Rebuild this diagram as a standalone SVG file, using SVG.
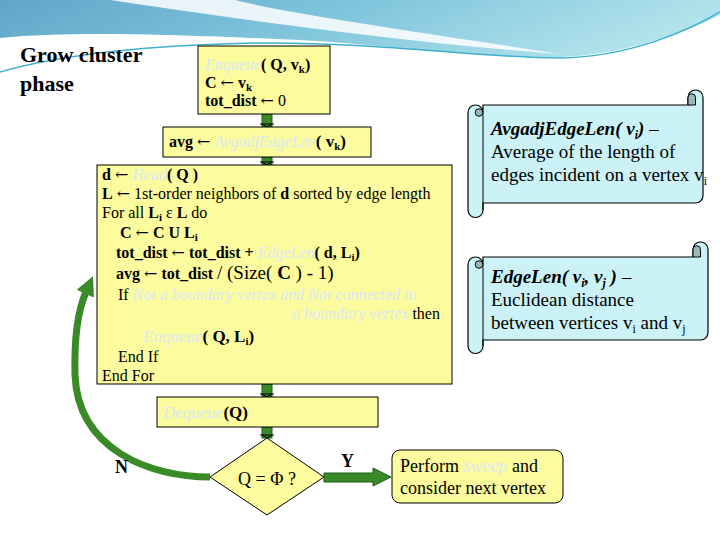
<svg xmlns="http://www.w3.org/2000/svg" width="720" height="540" viewBox="0 0 720 540">
<style>
.t{font-family:"Liberation Serif","Times New Roman",serif;font-size:16px;fill:#000}
.b{font-weight:bold}
.f{font-style:italic;fill:#d8e9f7}
.ar{font-family:"DejaVu Serif",serif;font-weight:normal}
.box{fill:#fcfb9d;stroke:#000;stroke-width:1}
.conn{fill:#3a8a28;stroke:#1f5a14;stroke-width:1}
.tick{fill:none;stroke:#000;stroke-width:1}
.scroll{fill:#caf2f7;stroke:#000;stroke-width:1.2}
.curl{fill:#9bb9bb;stroke:#000;stroke-width:1}
.sc{font-family:"Liberation Serif","Times New Roman",serif;font-size:19px;fill:#000}
</style>
<defs>
<linearGradient id="sky" x1="0" y1="0" x2="1" y2="0.2">
<stop offset="0" stop-color="#5fa6c9"/>
<stop offset="0.5" stop-color="#80c5dc"/>
<stop offset="1" stop-color="#b2e3ec"/>
</linearGradient>
<marker id="ah" viewBox="0 0 10 10" refX="1" refY="5" markerUnits="userSpaceOnUse" markerWidth="19" markerHeight="19" orient="auto">
<path d="M0,0 L10,5 L0,10 Z" fill="#3a8a28"/>
</marker>
</defs>
<rect width="720" height="540" fill="#fff"/>
<g id="background">
<path d="M0,0 H720 V15 C680,35 620,55 560,57 C470,58 380,44 300,40 C200,36 80,30 0,38 Z" fill="url(#sky)"/>
<path d="M110,0 C230,18 400,42 560,54 C420,32 290,14 235,0 Z" fill="#fff" opacity="0.85"/>
<path d="M0,72 C60,55 150,45 260,43 C380,42 480,58 560,58 C630,57 690,30 720,12" fill="none" stroke="#3fb0cc" stroke-width="1.5"/>
</g>
<g id="title">
<text class="t b" style="font-size:22px" x="20" y="62">Grow cluster</text>
<text class="t b" style="font-size:22px" x="20" y="91">phase</text>
</g>
<g id="connectors">
<rect class="conn" x="262" y="114" width="10" height="13"/>
<path class="tick" d="M260,124 H274 M262,124 L267,127 L272,124"/>
<rect class="conn" x="262" y="157" width="10" height="8"/>
<path class="tick" d="M260,162 H274 M262,162 L267,165 L272,162"/>
<rect class="conn" x="262" y="384" width="10" height="13"/>
<path class="tick" d="M260,394 H274 M262,394 L267,397 L272,394"/>
<rect class="conn" x="262" y="427" width="10" height="11"/>
<path class="tick" d="M260,435 H274 M262,435 L267,438 L272,435"/>
<path d="M324,473 H373 V468 L391,477 L373,486 V482 H324 Z" fill="#3a8a28" stroke="#1f5a14" stroke-width="1"/>
<path d="M210,477 C150,477 78,450 75,375 C74,335 78,310 86,292" fill="none" stroke="#3a8a28" stroke-width="7" marker-end="url(#ah)"/>
<text class="t b" style="font-size:18px" x="341" y="467">Y</text>
<text class="t b" style="font-size:18px" x="115" y="473">N</text>
</g>
<g id="enqueue">
<rect class="box" x="198" y="46" width="132" height="68"/>
<text class="t" x="205" y="70"><tspan class="f">Enqueue</tspan><tspan class="b">( Q, v</tspan><tspan class="b" dy="3" font-size="11">k</tspan><tspan class="b" dy="-3">)</tspan></text>
<text class="t b" x="205" y="88">C <tspan class="ar">←</tspan> v<tspan dy="3" font-size="11">k</tspan></text>
<text class="t" x="205" y="106"><tspan class="b">tot_dist</tspan> <tspan class="ar">←</tspan> 0</text>
</g>
<g id="avg">
<rect class="box" x="163" y="127" width="208" height="30"/>
<text class="t" x="169" y="147"><tspan class="b">avg </tspan><tspan class="ar">←</tspan> <tspan class="f">AvgadjEdgeLen</tspan><tspan class="b" font-size="17">( v</tspan><tspan class="b" dy="3" font-size="11">k</tspan><tspan class="b" font-size="17" dy="-3">)</tspan></text>
</g>
<g id="loop">
<rect class="box" x="97" y="165" width="355" height="219"/>
<text class="t" x="102" y="180"><tspan class="b">d</tspan> <tspan class="ar">←</tspan> <tspan class="f">Head</tspan><tspan class="b">( Q )</tspan></text>
<text class="t" x="102" y="199"><tspan class="b">L</tspan> <tspan class="ar">←</tspan> 1st-order neighbors of  <tspan class="b">d</tspan> sorted by edge length</text>
<text class="t" x="102" y="218">For all <tspan class="b">L</tspan><tspan class="b" dy="3" font-size="11">i</tspan><tspan dy="-3"> ε </tspan><tspan class="b">L</tspan>  do</text>
<text class="t b" x="120" y="238">C <tspan class="ar">←</tspan> C U L<tspan dy="3" font-size="11">i</tspan></text>
<text class="t" x="116" y="258"><tspan class="b">tot_dist </tspan><tspan class="ar">←</tspan><tspan class="b"> tot_dist + </tspan><tspan class="f">EdgeLen</tspan><tspan class="b">( d, L</tspan><tspan class="b" dy="3" font-size="11">i</tspan><tspan class="b" dy="-3">)</tspan></text>
<text class="t" x="116" y="279"><tspan class="b">avg </tspan><tspan class="ar">←</tspan><tspan class="b"> tot_dist </tspan><tspan font-size="19">/ (Size( <tspan class="b">C</tspan> ) - 1)</tspan></text>
<text class="t" x="118" y="300">If <tspan class="f">Not a boundary vertex and Not connected to</tspan></text>
<text class="t" x="292" y="319"><tspan class="f">a boundary vertex</tspan> then</text>
<text class="t" x="143" y="342" style="font-size:17px"><tspan class="f">Enqueue</tspan><tspan class="b">( Q, L</tspan><tspan class="b" dy="3" font-size="11">i</tspan><tspan class="b" dy="-3">)</tspan></text>
<text class="t" x="118" y="362">End If</text>
<text class="t" x="102" y="381">End For</text>
</g>
<g id="dequeue">
<rect class="box" x="157" y="397" width="221" height="30"/>
<text class="t" x="163" y="418" style="font-size:17px"><tspan class="f">Dequeue</tspan><tspan class="b">(Q)</tspan></text>
</g>
<g id="decision">
<path class="box" d="M267,438 L324,477 L267,515 L210,477 Z"/>
<text class="t" x="267" y="485" style="font-size:18px" text-anchor="middle">Q = Φ ?</text>
</g>
<g id="perform">
<rect class="box" x="392" y="450" width="171" height="53" rx="8"/>
<text class="t" x="400" y="472" style="font-size:18px">Perform <tspan class="f" font-style="normal">sweep</tspan> and</text>
<text class="t" x="400" y="494" style="font-size:18px">consider next vertex</text>
</g>
<g id="scroll-avgadj">
<path class="scroll" d="M483,105 H688 V97.5 A7.5,7.5 0 0 1 703,97.5 V195.5 A7.5,7.5 0 0 1 695.5,203 H483 V210 A7.5,7.5 0 0 1 468,210 V112.5 A7.5,7.5 0 0 1 483,112.5 Z"/>
<path class="curl" d="M688,105 V97.5 A3.75,3.75 0 0 1 695.5,97.5 V105 Z"/>
<circle class="curl" cx="479" cy="112.5" r="3.75"/>
<line x1="483" y1="112.5" x2="483" y2="210" stroke="#000" stroke-width="1"/>
<text class="sc" x="491" y="135"><tspan font-weight="bold" font-style="italic">AvgadjEdgeLen( v<tspan dy="4" font-size="12">i</tspan><tspan dy="-4">)</tspan></tspan> –</text>
<text class="sc" x="491" y="158">Average of the length of</text>
<text class="sc" x="491" y="181">edges incident on a vertex v<tspan dy="4" font-size="12">i</tspan></text>
</g>
<g id="scroll-edgelen">
<path class="scroll" d="M483,257 H693 V249.5 A7.5,7.5 0 0 1 708,249.5 V332.5 A7.5,7.5 0 0 1 700.5,340 H483 V346 A7.5,7.5 0 0 1 468,346 V264.5 A7.5,7.5 0 0 1 483,264.5 Z"/>
<path class="curl" d="M693,257 V249.5 A3.75,3.75 0 0 1 700.5,249.5 V257 Z"/>
<circle class="curl" cx="479" cy="264.5" r="3.75"/>
<line x1="483" y1="264.5" x2="483" y2="346" stroke="#000" stroke-width="1"/>
<text class="sc" x="491" y="283"><tspan font-weight="bold" font-style="italic">EdgeLen( v<tspan dy="4" font-size="12">i</tspan><tspan dy="-4">, v</tspan><tspan dy="4" font-size="12">j</tspan><tspan dy="-4"> )</tspan></tspan> –</text>
<text class="sc" x="491" y="306">Euclidean distance</text>
<text class="sc" x="491" y="329">between vertices v<tspan dy="4" font-size="12">i</tspan><tspan dy="-4"> and v</tspan><tspan dy="4" font-size="12">j</tspan></text>
</g>
</svg>
